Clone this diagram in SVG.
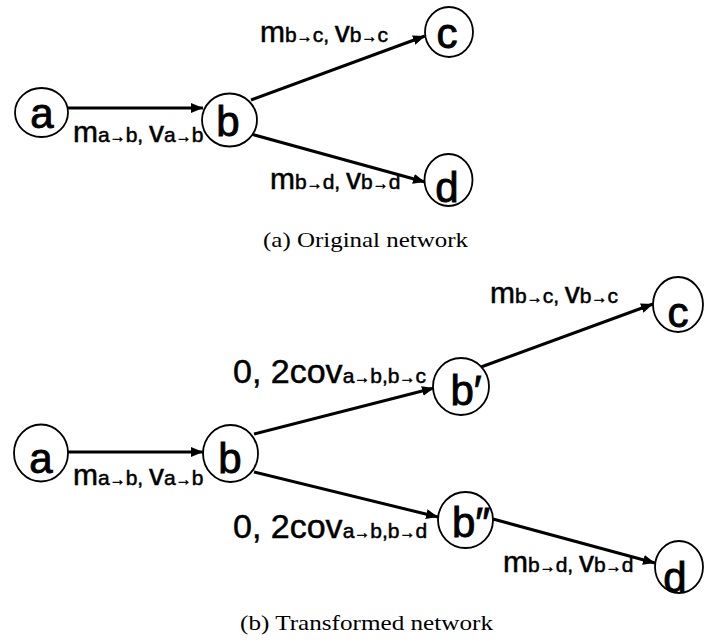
<svg xmlns="http://www.w3.org/2000/svg" width="704" height="644" viewBox="0 0 704 644">
  <style>
    .node ellipse { fill: #fff; stroke: #000; stroke-width: 1.8; }
    .node text { font-family: "Liberation Sans", "DejaVu Sans", sans-serif; font-size: 42px; text-anchor: middle; fill: #000; stroke: #000; stroke-width: 0.9; }
    .edge { stroke: #000; stroke-width: 3; fill: none; marker-end: url(#head); }
    .lbl { font-family: "Liberation Sans", "DejaVu Sans", sans-serif; font-size: 30px; fill: #000; stroke: #000; stroke-width: 0.5; }
    .lbl .s { font-size: 21px; }
    .lbl .ar { font-size: 16px; }
    .cov { font-size: 34px; }
    .cap { font-family: "Liberation Serif", "Times New Roman", serif; font-size: 22px; fill: #000; }
  </style>
  <defs>
    <marker id="head" markerUnits="userSpaceOnUse" markerWidth="14" markerHeight="10" refX="12" refY="5" orient="auto">
      <path d="M0,0 L12,5 L0,10 Z" fill="#000"/>
    </marker>
  </defs>

  <!-- (a) original network -->
  <g id="edges-a">
    <line class="edge" x1="68" y1="108" x2="203" y2="108"/>
    <line class="edge" x1="251" y1="100" x2="425" y2="36"/>
    <line class="edge" x1="251" y1="134" x2="425" y2="182"/>
  </g>
  <g id="labels-a">
    <text class="lbl" x="73" y="142">m<tspan class="s">a<tspan class="ar">→</tspan>b, </tspan>v<tspan class="s">a<tspan class="ar">→</tspan>b</tspan></text>
    <text class="lbl" x="260" y="42">m<tspan class="s">b<tspan class="ar">→</tspan>c, </tspan>v<tspan class="s">b<tspan class="ar">→</tspan>c</tspan></text>
    <text class="lbl" x="270" y="189">m<tspan class="s">b<tspan class="ar">→</tspan>d, </tspan>v<tspan class="s">b<tspan class="ar">→</tspan>d</tspan></text>
  </g>
  <g id="a1" class="node"><ellipse cx="41.5" cy="112.5" rx="26.5" ry="24.5"/><text x="42" y="128">a</text></g>
  <g id="b1" class="node"><ellipse cx="229.5" cy="120" rx="27.5" ry="26.5"/><text x="228" y="136">b</text></g>
  <g id="c1" class="node"><ellipse cx="449" cy="32" rx="24" ry="25"/><text x="447" y="48">c</text></g>
  <g id="d1" class="node"><ellipse cx="448.5" cy="180" rx="24" ry="26"/><text x="447" y="202">d</text></g>
  <text class="cap" x="263" y="247" textLength="205" lengthAdjust="spacingAndGlyphs">(a)  Original network</text>

  <!-- (b) transformed network -->
  <g id="edges-b">
    <line class="edge" x1="68" y1="452" x2="203" y2="452"/>
    <line class="edge" x1="254" y1="434" x2="434" y2="388"/>
    <line class="edge" x1="254" y1="472" x2="438" y2="517"/>
    <line class="edge" x1="481" y1="367" x2="653" y2="304"/>
    <line class="edge" x1="493" y1="519" x2="655" y2="563"/>
  </g>
  <g id="labels-b">
    <text class="lbl" x="73" y="485">m<tspan class="s">a<tspan class="ar">→</tspan>b, </tspan>v<tspan class="s">a<tspan class="ar">→</tspan>b</tspan></text>
    <text class="lbl cov" x="233" y="383">0, 2cov<tspan class="s">a<tspan class="ar">→</tspan>b,b<tspan class="ar">→</tspan>c</tspan></text>
    <text class="lbl" x="490" y="303">m<tspan class="s">b<tspan class="ar">→</tspan>c, </tspan>v<tspan class="s">b<tspan class="ar">→</tspan>c</tspan></text>
    <text class="lbl cov" x="233" y="538">0, 2cov<tspan class="s">a<tspan class="ar">→</tspan>b,b<tspan class="ar">→</tspan>d</tspan></text>
    <text class="lbl" x="503" y="572">m<tspan class="s">b<tspan class="ar">→</tspan>d, </tspan>v<tspan class="s">b<tspan class="ar">→</tspan>d</tspan></text>
  </g>
  <g id="a2" class="node"><ellipse cx="41" cy="453" rx="27" ry="28.5"/><text x="41" y="473">a</text></g>
  <g id="b2" class="node"><ellipse cx="230.5" cy="453.5" rx="27.5" ry="28.5"/><text x="230" y="473">b</text></g>
  <g id="bp" class="node"><ellipse cx="461" cy="386.5" rx="28" ry="28.5"/><text x="466" y="405">b′</text></g>
  <g id="bpp" class="node"><ellipse cx="465.5" cy="520" rx="27.5" ry="28"/><text x="471" y="537">b″</text></g>
  <g id="c2" class="node"><ellipse cx="678" cy="304.5" rx="25" ry="27.5"/><text x="678" y="327">c</text></g>
  <g id="d2" class="node"><ellipse cx="679" cy="567" rx="24" ry="26"/><text x="675" y="592">d</text></g>
  <text class="cap" x="240" y="630" textLength="253" lengthAdjust="spacingAndGlyphs">(b)  Transformed network</text>
</svg>
